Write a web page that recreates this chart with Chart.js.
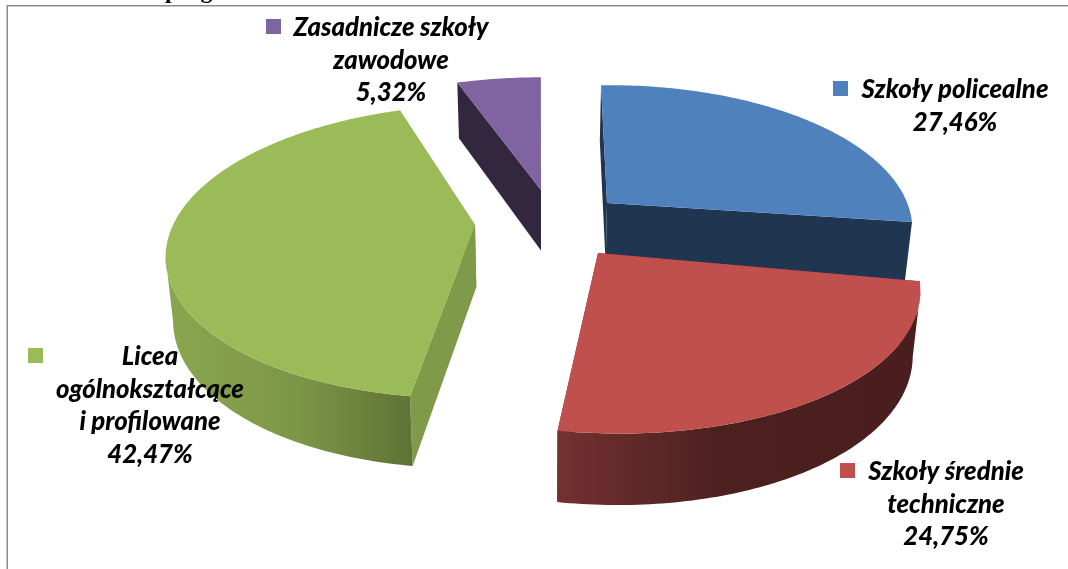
<!DOCTYPE html>
<html lang="pl">
<head>
<meta charset="utf-8">
<title>Szkoły</title>
<script src="https://cdn.jsdelivr.net/npm/chart.js@4"></script>
<style>
    html, body { margin: 0; padding: 0; background: #fff; overflow: hidden; }
    canvas { display: block; }
</style>
</head>
<body>
<canvas id="pieChart" width="1068" height="569"></canvas>
<script>
// Data
const categories = ['Szkoły policealne', 'Szkoły średnie\ntechniczne', 'Licea\nogólnokształcące\ni profilowane', 'Zasadnicze szkoły\nzawodowe'];
const shares = [27.46, 24.75, 42.47, 5.32];
const topColors = ['#4F81BD', '#C0504D', '#9BBB59', '#8064A2'];

// Each slice is exploded on its own, so each gets its own ellipse
const sliceShape = [
    { cx: 607, cy: 203, f: 299, g: 139, vx: 568, sy: -3 },
    { cx: 598, cy: 253, f: 315, g: 148, vx: 540, sy: 5 },
    { cx: 475, cy: 225, f: 302, g: 142, vx: 540, sy: 0 },
    { cx: 541, cy: 190, f: 298, g: 133, vx: 540, sy: 0 }
];
const wallStops = [
    [[0, '#1F3550'], [1, '#1F3550']],
    [[0, '#733030'], [0.45, '#4D2020'], [1, '#4A1E1E']],
    [[0, '#8BA650'], [0.55, '#7C9648'], [1, '#5F7335']],
    [[0, '#33263F'], [1, '#33263F']]
];
const cutColors = ['#1F3550', '#733030', '#7F9A48', '#33263F'];
const labelSpots = [
    { x: 955, y: 90, keyX: 833, keyY: 81 },
    { x: 946, y: 472, keyX: 840, keyY: 463 },
    { x: 150, y: 357, keyX: 28, keyY: 348 },
    { x: 391, y: 28, keyX: 266, keyY: 19 }
];
const drawOrder = [3, 0, 2, 1];

const VANISH_X = 540;
const TILT = 0.18;

/**
 * Top face point for a unit circle position
 */
function project(shape, angle) {
    const x = Math.cos(angle);
    const y = Math.sin(angle);
    const w = 1 - TILT * y;
    return {
        x: shape.vx + (shape.cx - shape.vx + shape.f * x) / w,
        y: shape.cy + shape.g * y / w + shape.sy * x
    };
}

function centerPoint(shape) {
    return { x: shape.cx, y: shape.cy };
}

// Same point moved down to the bottom face
function drop(p) {
    return {
        x: p.x + (VANISH_X - p.x) * 0.02,
        y: p.y + 52 + 0.045 * p.y
    };
}

function arcPoints(shape, start, end) {
    const pts = [];
    const steps = Math.max(8, Math.ceil((end - start) * 60));
    for (let i = 0; i <= steps; i++) {
        pts.push(project(shape, start + (end - start) * i / steps));
    }
    return pts;
}

function fillPoly(ctx, pts, fill) {
    ctx.beginPath();
    pts.forEach((p, i) => (i ? ctx.lineTo(p.x, p.y) : ctx.moveTo(p.x, p.y)));
    ctx.closePath();
    ctx.fillStyle = fill;
    ctx.fill();
}

function drawSlice(ctx, arc, index) {
    const shape = sliceShape[index];
    const { startAngle, endAngle } = arc.getProps(['startAngle', 'endAngle'], true);
    const rim = arcPoints(shape, startAngle, endAngle);
    const apex = centerPoint(shape);

    // Cut faces
    [rim[0], rim[rim.length - 1]].forEach(edge => {
        fillPoly(ctx, [apex, edge, drop(edge), drop(apex)], cutColors[index]);
    });

    // Outer wall, only the part of the rim that faces the viewer
    const front = rim.filter((p, i) => (i < rim.length - 1 && rim[i + 1].x < p.x) || (i > 0 && rim[i - 1].x > p.x));
    if (front.length > 1) {
        const xs = rim.map(p => p.x);
        const grad = ctx.createLinearGradient(Math.min(...xs), 0, Math.max(...xs), 0);
        wallStops[index].forEach(([stop, color]) => grad.addColorStop(stop, color));
        fillPoly(ctx, front.concat(front.map(drop).reverse()), grad);
    }

    // Top face
    fillPoly(ctx, [apex].concat(rim), topColors[index]);
}

const pie3d = {
    id: 'pie3d',
    beforeDatasetDraw(chart, args) {
        const arcs = chart.getDatasetMeta(args.index).data;
        drawOrder.forEach(i => drawSlice(chart.ctx, arcs[i], i));
        return false;
    },
    afterDraw(chart) {
        const ctx = chart.ctx;
        ctx.save();

        // Page text cut off above the frame
        ctx.fillStyle = '#000';
        ctx.textAlign = 'left';
        ctx.textBaseline = 'alphabetic';
        ctx.font = 'bold 24px "Liberation Serif"';
        ctx.fillText('prog', 165, -2);

        // Frame
        ctx.fillStyle = '#fff';
        ctx.fillRect(0, 0, 7, 569);
        ctx.fillStyle = '#8C8C8C';
        ctx.fillRect(7, 5, 1061, 1.5);
        ctx.fillRect(6.5, 5, 1.5, 564);

        // Labels with their keys
        categories.forEach((name, i) => {
            const spot = labelSpots[i];
            ctx.fillStyle = topColors[i];
            ctx.fillRect(spot.keyX, spot.keyY, 15, 15);

            ctx.fillStyle = '#000';
            ctx.textAlign = 'center';
            ctx.textBaseline = 'middle';
            ctx.font = 'italic 900 25.7px Lato';
            const lines = name.split('\n').concat(shares[i].toFixed(2).replace('.', ',') + '%');
            lines.forEach((line, n) => ctx.fillText(line, spot.x, spot.y + n * 32.5));
        });
        ctx.restore();
    }
};

new Chart(document.getElementById('pieChart'), {
    type: 'pie',
    data: {
        labels: categories,
        datasets: [{ data: shares, backgroundColor: topColors, borderWidth: 0 }]
    },
    options: {
        responsive: false,
        animation: false,
        plugins: { legend: { display: false }, tooltip: { enabled: false } }
    },
    plugins: [pie3d]
});
</script>
</body>
</html>
